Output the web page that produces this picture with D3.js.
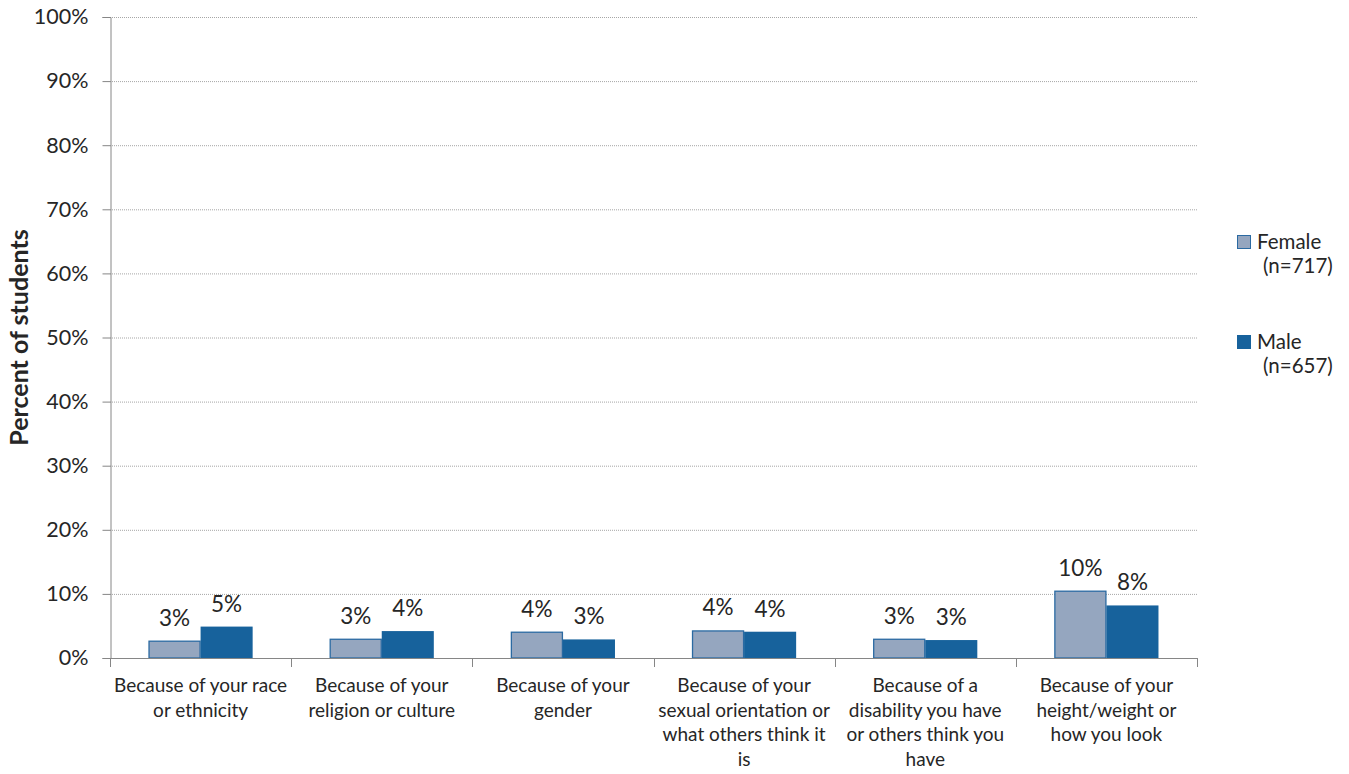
<!DOCTYPE html>
<html><head><meta charset="utf-8">
<script src="https://cdn.jsdelivr.net/npm/d3@7"></script>
<style>body{margin:0;background:#fff}svg{display:block}text{font-family:Lato,"Noto Sans",sans-serif;fill:#262626}</style>
</head><body><svg id="c" width="1349" height="774"></svg>
<script>
const categories = [
  ["Because of your race","or ethnicity"],
  ["Because of your","religion or culture"],
  ["Because of your","gender"],
  ["Because of your","sexual orientation or","what others think it","is"],
  ["Because of a","disability you have","or others think you","have"],
  ["Because of your","height/weight or","how you look"]
];
const female = [2.7, 3.0, 4.1, 4.3, 3.0, 10.5];
const male = [4.9, 4.2, 2.9, 4.1, 2.8, 8.2];
const femaleLabels = ["3%","3%","4%","4%","3%","10%"];
const maleLabels = ["5%","4%","3%","4%","3%","8%"];
const yTicks = [0,10,20,30,40,50,60,70,80,90,100];
const seriesNames = [["Female","(n=717)"],["Male","(n=657)"]];

const svg = d3.select("#c");
const L=110, R=1197, T=17, B=658;
const x0 = d3.scaleBand().domain(d3.range(categories.length)).range([L,R]).paddingInner(0).paddingOuter(0);
const x1 = d3.scaleBand().domain([0,1]).range([0,x0.bandwidth()]).paddingOuter(0.74).paddingInner(0);
const y = d3.scaleLinear().domain([0,100]).range([B,T]);
const colors = {f:"#95a6bf", fs:"#2b6aa2", m:"#17629c"};

// gridlines
svg.append("g").selectAll("line").data(yTicks.filter(d=>d>0)).join("line")
  .attr("x1",L).attr("x2",R).attr("y1",d=>y(d)+0.5).attr("y2",d=>y(d)+0.5)
  .attr("stroke","#a6a6a6").attr("stroke-width",1).attr("stroke-dasharray","1,1");

// y axis
const ya = svg.append("g").attr("transform",`translate(${L+0.5},0)`)
  .call(d3.axisLeft(y).tickValues(yTicks).tickFormat(d=>d+"%").tickSize(8).tickPadding(14));
ya.select(".domain").attr("stroke","#868686");
ya.selectAll(".tick line").attr("stroke","#868686");
ya.selectAll("text").attr("font-size",21.5).attr("fill","#262626").style("font-family","Lato,'Noto Sans',sans-serif");

// bars
const data = categories.map((c,i)=>({i, f:female[i], m:male[i], fl:femaleLabels[i], ml:maleLabels[i]}));
const g = svg.append("g");
g.selectAll("rect.f").data(data).join("rect").attr("class","f")
  .attr("x",d=>x0(d.i)+x1(0)+0.5).attr("width",x1.bandwidth()-1)
  .attr("y",d=>y(d.f)+0.5).attr("height",d=>B-y(d.f)-0.5)
  .attr("fill",colors.f).attr("stroke",colors.fs).attr("stroke-width",1.3);
g.selectAll("rect.m").data(data).join("rect").attr("class","m")
  .attr("x",d=>x0(d.i)+x1(1)).attr("width",x1.bandwidth())
  .attr("y",d=>y(d.m)).attr("height",d=>B-y(d.m))
  .attr("fill",colors.m);
g.selectAll("text.fl").data(data).join("text").attr("class","fl")
  .attr("x",d=>x0(d.i)+x1(0)+x1.bandwidth()/2).attr("y",d=>y(d.f)-15)
  .attr("text-anchor","middle").attr("font-size",22.5).text(d=>d.fl);
g.selectAll("text.ml").data(data).join("text").attr("class","ml")
  .attr("x",d=>x0(d.i)+x1(1)+x1.bandwidth()/2).attr("y",d=>y(d.m)-15)
  .attr("text-anchor","middle").attr("font-size",22.5).text(d=>d.ml);

// x axis
svg.append("line").attr("x1",L).attr("x2",R+1).attr("y1",B+0.5).attr("y2",B+0.5).attr("stroke","#868686");
svg.append("g").selectAll("line").data(d3.range(categories.length+1)).join("line")
  .attr("x1",d=>Math.round(L+d*x0.bandwidth())+0.5).attr("x2",d=>Math.round(L+d*x0.bandwidth())+0.5)
  .attr("y1",B).attr("y2",B+9).attr("stroke","#868686");
const cl = svg.append("g").selectAll("text").data(categories).join("text")
  .attr("x",(d,i)=>x0(i)+x0.bandwidth()/2).attr("y",692)
  .attr("text-anchor","middle").attr("font-size",19);
cl.selectAll("tspan").data(d=>d).join("tspan")
  .attr("x",function(){return this.parentNode.getAttribute("x");})
  .attr("dy",(d,i)=>i===0?0:24.5).text(d=>d);

// y title
svg.append("text").attr("transform",`translate(28,${(T+B)/2}) rotate(-90)`)
  .attr("text-anchor","middle").attr("font-size",25).attr("font-weight","bold").text("Percent of students");

// legend
const lg = svg.append("g");
seriesNames.forEach((s,i)=>{
  const yy = 235 + i*100;
  lg.append("rect").attr("x",1237.5).attr("y",yy+0.5).attr("width",13).attr("height",13)
    .attr("fill",i===0?colors.f:colors.m).attr("stroke",i===0?colors.fs:colors.m).attr("stroke-width",1);
  const t = lg.append("text").attr("y",yy+13.5).attr("font-size",20.5);
  t.append("tspan").attr("x",1257).text(s[0]);
  t.append("tspan").attr("x",1263).attr("dy",24.6).text(s[1]);
});
</script></body></html>
